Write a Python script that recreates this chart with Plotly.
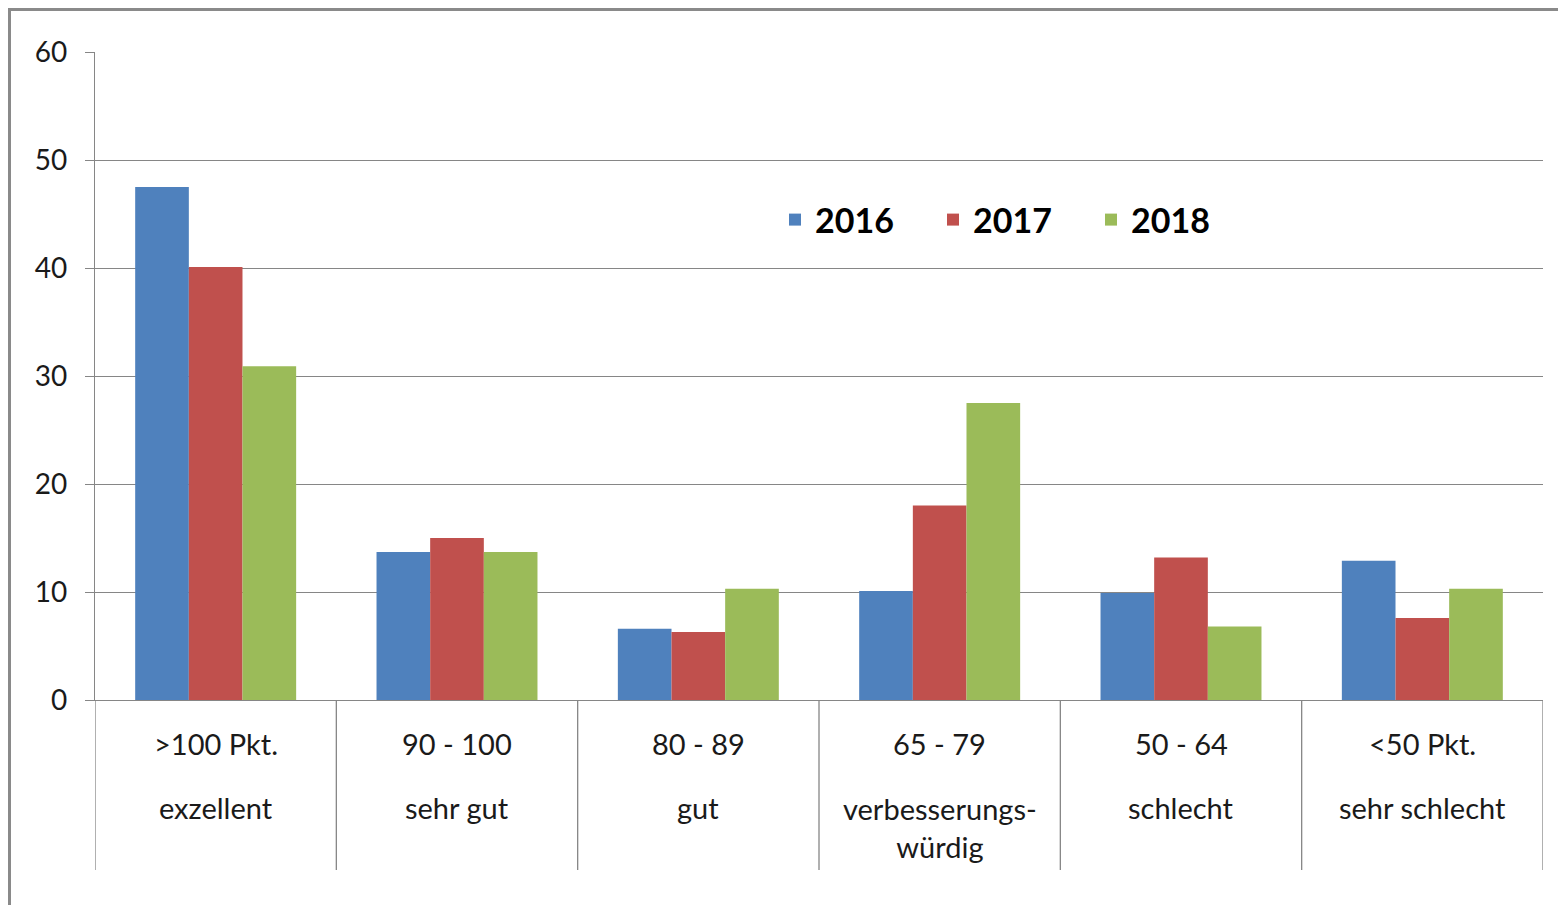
import plotly.graph_objects as go

categories = [">100 Pkt.", "90 - 100", "80 - 89", "65 - 79", "50 - 64", "<50 Pkt."]
descriptions = ["exzellent", "sehr gut", "gut", "verbesserungs-<br>würdig", "schlecht", "sehr schlecht"]
years = ["2016", "2017", "2018"]
values_2016 = [47.5, 13.7, 6.6, 10.1, 9.9, 12.9]
values_2017 = [40.1, 15.0, 6.3, 18.0, 13.2, 7.6]
values_2018 = [30.9, 13.7, 10.3, 27.5, 6.8, 10.3]
colors = ["#4F81BD", "#C0504D", "#9BBB59"]
y_ticks = [0, 10, 20, 30, 40, 50, 60]

FONT = "Lato, 'Open Sans', sans-serif"
GRID = "#868686"

# the page places the figure 8px from the top-left corner
OFF = 8
W, H = 1566 - OFF, 905 - OFF
ML, MT = 95 - OFF, 52 - OFF
MR = W - (1543 - OFF)
MB = H - (700 - OFF)
PW, PH = W - ML - MR, H - MT - MB

def py(pix):
    return ((700 - OFF) - (pix - OFF)) / PH

def px(pix):
    return ((pix - OFF) - ML) / PW

fig = go.Figure()
for name, vals, col in zip(years, [values_2016, values_2017, values_2018], colors):
    fig.add_trace(go.Bar(name=name, x=categories, y=vals, marker=dict(color=col, line=dict(width=0))))

annotations = []
for i, (c, d) in enumerate(zip(categories, descriptions)):
    annotations.append(dict(x=c, xref="x", y=py(743), yref="paper", text=c, showarrow=False,
                            xanchor="center", yanchor="middle",
                            font=dict(family=FONT, size=29, color="#1a1a1a")))
    nlines = d.count("<br>") + 1
    annotations.append(dict(x=c, xref="x", y=py(807 + (nlines - 1) * 20), yref="paper", text=d,
                            showarrow=False, xanchor="center", yanchor="middle",
                            font=dict(family=FONT, size=29, color="#1a1a1a")))

shapes = []
for i in range(len(categories) + 1):
    shapes.append(dict(type="line", xref="x", yref="paper", x0=i - 0.5, x1=i - 0.5,
                       y0=0, y1=py(870), line=dict(color=GRID, width=1.3)))
# outer chart border
shapes.append(dict(type="rect", xref="paper", yref="paper", x0=px(9.5), x1=px(1580),
                   y0=py(920), y1=py(9.5), line=dict(color="#8a8a8a", width=3), fillcolor="rgba(0,0,0,0)"))

fig.update_layout(
    width=W, height=H,
    margin=dict(l=ML, r=MR, t=MT, b=MB),
    paper_bgcolor="white", plot_bgcolor="white",
    barmode="group", bargap=0.333, bargroupgap=0,
    font=dict(family=FONT, size=28, color="#1a1a1a"),
    legend=dict(orientation="h", x=px(775), y=py(220), xanchor="left", yanchor="middle",
                font=dict(family=FONT, size=34, color="#000000", weight="bold"),
                bgcolor="rgba(0,0,0,0)", entrywidth=113, entrywidthmode="pixels",
                itemclick=False),
    annotations=annotations,
    shapes=shapes,
    xaxis=dict(type="category", showticklabels=False, showline=True, linecolor=GRID, linewidth=1.3,
               ticks="", showgrid=False, range=[-0.5, len(categories) - 0.5]),
    yaxis=dict(range=[0, 60], tickvals=y_ticks, showgrid=True, gridcolor=GRID, gridwidth=1.3,
               showline=True, linecolor=GRID, linewidth=1.3, ticks="outside", ticklen=9,
               tickcolor=GRID, tickwidth=1.3, zeroline=False, ticklabelstandoff=12,
               tickfont=dict(family=FONT, size=28, color="#1a1a1a")),
)

fig.write_html("out.html")
